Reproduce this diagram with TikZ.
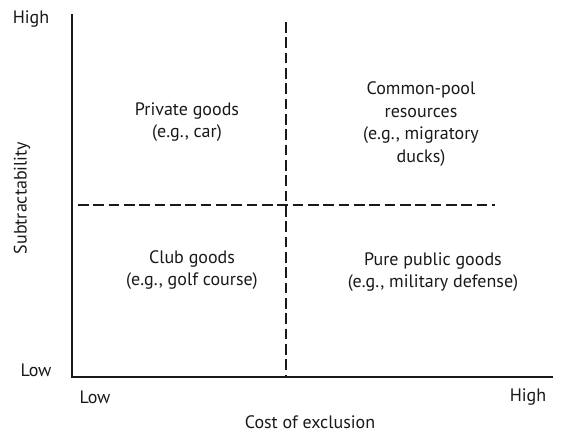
\documentclass[tikz,border=0pt]{standalone}
\usepackage{fontspec}
\setmainfont{PT Sans}
\begin{document}
\begin{tikzpicture}[x=0.75pt,y=-0.75pt,
  axis/.style={line width=1.6pt,black!90},
  dsh/.style={line width=1.6pt,black!90,dash pattern=on 8pt off 3.5pt},
  lbl/.style={font=\fontsize{13.5}{17}\selectfont,align=center,inner sep=0pt,text=black!90}]
\useasboundingbox (0,0) rectangle (562,433);
\coordinate (top) at (72,14);
\coordinate (org) at (72,377);
\coordinate (right) at (553,377);
\coordinate (vt) at (286,22);
\coordinate (vb) at (286,377);
\coordinate (hl) at (78,205);
\coordinate (hr) at (495,205);
\draw[axis] (top) -- (org) -- (right);
\draw[dsh] (vt) -- (vb);
\draw[dsh] (hl) -- (hr);
\node[lbl] (yhigh) at (31,19) {High};
\node[lbl] (ylow) at (36,370) {Low};
\node[lbl] (xlow) at (95,397) {Low};
\node[lbl] (xhigh) at (528,397) {High};
\node[lbl] (xlab) at (310,422) {Cost of exclusion};
\node[lbl,rotate=90] (ylab) at (22,198) {Subtractability};
\node[lbl] (priv) at (187,122) {Private goods\\(e.g., car)};
\node[lbl] (cpr) at (421,124) {Common-pool\\resources\\(e.g., migratory\\ducks)};
\node[lbl] (club) at (192,270) {Club goods\\(e.g., golf course)};
\node[lbl] (pub) at (433,272) {Pure public goods\\(e.g., military defense)};
\end{tikzpicture}
\end{document}
